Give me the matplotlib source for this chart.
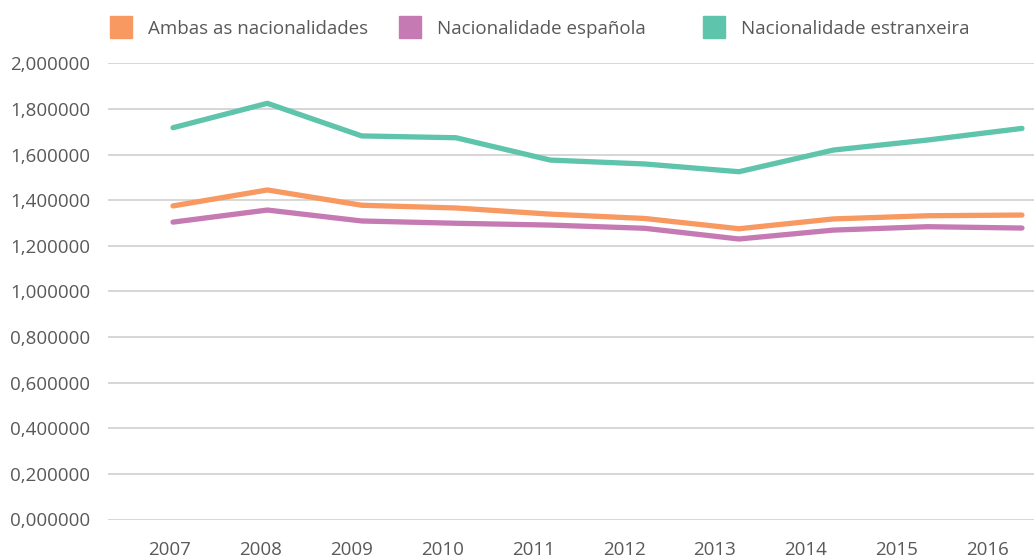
import numpy as np
import matplotlib
matplotlib.use("Agg")
import matplotlib.pyplot as plt
from matplotlib.lines import Line2D

# data
years = ['2007', '2008', '2009', '2010', '2011', '2012', '2013', '2014', '2015', '2016']
ambas = [1.375, 1.445, 1.378, 1.366, 1.339, 1.320, 1.275, 1.318, 1.332, 1.335]
espanola = [1.304, 1.357, 1.309, 1.299, 1.291, 1.277, 1.230, 1.269, 1.284, 1.278]
estranxeira = [1.718, 1.825, 1.682, 1.674, 1.576, 1.559, 1.525, 1.620, 1.664, 1.715]
yticks = np.arange(0, 2.01, 0.2)

series_names = ['Ambas as nacionalidades', 'Nacionalidade española', 'Nacionalidade estranxeira']
colors = ['#F79961', '#C57AB4', '#5EC4AC']
text_col = '#595959'
fsize = 13.5

plt.rcParams['font.family'] = ['Open Sans', 'DejaVu Sans']

fig = plt.figure(figsize=(10.34, 5.58), dpi=100)
ax = fig.add_axes([108 / 1034, 38.5 / 558, 1 - 108 / 1034, (494.6 - 38.5) / 558])

x = np.arange(len(years))
for vals, c in zip([ambas, espanola, estranxeira], colors):
    ax.plot(x, vals, color=c, lw=3.8, solid_capstyle='round', clip_on=False, zorder=3)

ax.set_ylim(0, 2.0)
ax.set_xlim((108 - 173) / 94.33, (1034 - 173) / 94.33)
ax.set_yticks(yticks)
ax.set_yticklabels([f'{v:.6f}'.replace('.', ',') for v in yticks])

# year labels sit on a slightly narrower spacing than the points in the original
ax.set_xticks(x * (90.9 / 94.33) + (169.5 - 173) / 94.33)
ax.set_xticklabels(years)

ax.grid(axis='y', color='#cfcfcf', lw=1.2, zorder=0)
ax.set_axisbelow(True)
for s in ax.spines.values():
    s.set_visible(False)
ax.tick_params(axis='both', length=0, labelsize=fsize, colors=text_col)
ax.tick_params(axis='y', pad=13)
ax.tick_params(axis='x', pad=15.5)

# legend entries at their own positions along the top
leg_x = [110, 399, 703]
for name, c, lx in zip(series_names, colors, leg_x):
    h = Line2D([], [], marker='s', markersize=16.4, color=c, linestyle='none')
    leg = fig.legend([h], [name], loc='center left',
                     bbox_to_anchor=(lx / 1034, 1 - 28.5 / 558),
                     frameon=False, fontsize=fsize, handlelength=1.22,
                     handletextpad=0.8, borderpad=0, borderaxespad=0)
    for t in leg.get_texts():
        t.set_color(text_col)

fig.savefig('out.png', dpi=100)
